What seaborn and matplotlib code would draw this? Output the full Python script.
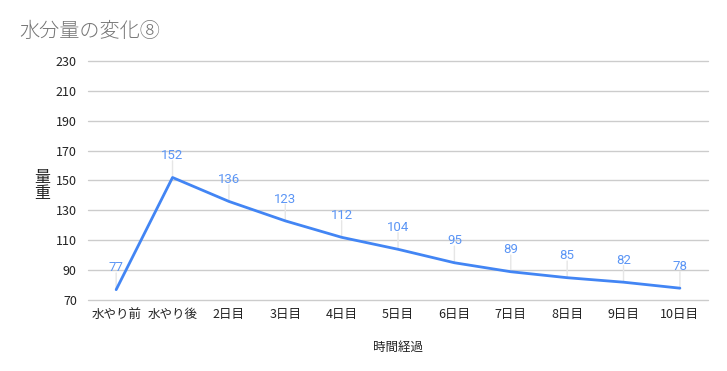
import matplotlib
matplotlib.use("Agg")
import matplotlib.pyplot as plt
import seaborn as sns
import pandas as pd

categories = ["水やり前", "水やり後", "2日目", "3日目", "4日目", "5日目", "6日目", "7日目", "8日目", "9日目", "10日目"]
values = [77, 152, 136, 123, 112, 104, 95, 89, 85, 82, 78]
yticks = [70, 90, 110, 130, 150, 170, 190, 210, 230]
title = "水分量の変化⑧"
xlabel = "時間経過"
ylabel = "量\n重"

sns.set_theme(style="white")
plt.rcParams['font.family'] = ['Noto Sans CJK JP', 'DejaVu Sans']

df = pd.DataFrame({"cat": categories, "val": values})

fig = plt.figure(figsize=(7.27, 3.71), dpi=100)
ax = fig.add_axes([0.121, 0.191, 0.853, 0.645])

ax.set_ylim(70, 230)
ax.set_yticks(yticks)
for y in yticks:
    ax.axhline(y, color="#cccccc", lw=1, zorder=0, clip_on=False)

sns.lineplot(data=df, x="cat", y="val", sort=False, color="#4285F4", lw=2, ax=ax, zorder=3)
ax.set_xlim(-0.5, len(categories) - 0.5)

for i, v in enumerate(values):
    ax.annotate(str(v), xy=(i, v), xytext=(0, 11), textcoords="offset points",
                ha="center", va="bottom", fontsize=9.5, color="#5b95f5", zorder=4,
                family=['Roboto', 'DejaVu Sans'])
    ax.annotate("", xy=(i, v), xytext=(0, 12), textcoords="offset points",
                arrowprops=dict(arrowstyle="-", color="#e6e6e6", lw=1, shrinkA=0, shrinkB=0), zorder=2)

for s in ax.spines.values():
    s.set_visible(False)
ax.tick_params(axis="both", length=0, labelsize=9, colors="#222222")
ax.tick_params(axis="x", pad=6)
ax.tick_params(axis="y", pad=8)
ax.set_xlabel(xlabel, fontsize=9, color="#222222", labelpad=14)
ax.set_ylabel("")
fig.text(0.058, 0.50, ylabel, fontsize=11.5, color="#222222", ha="center", va="center", linespacing=0.95)
fig.text(0.027, 0.915, title, fontsize=14.5, color="#757575", ha="left", va="center", fontweight="light")

fig.savefig("out.png", dpi=100)
